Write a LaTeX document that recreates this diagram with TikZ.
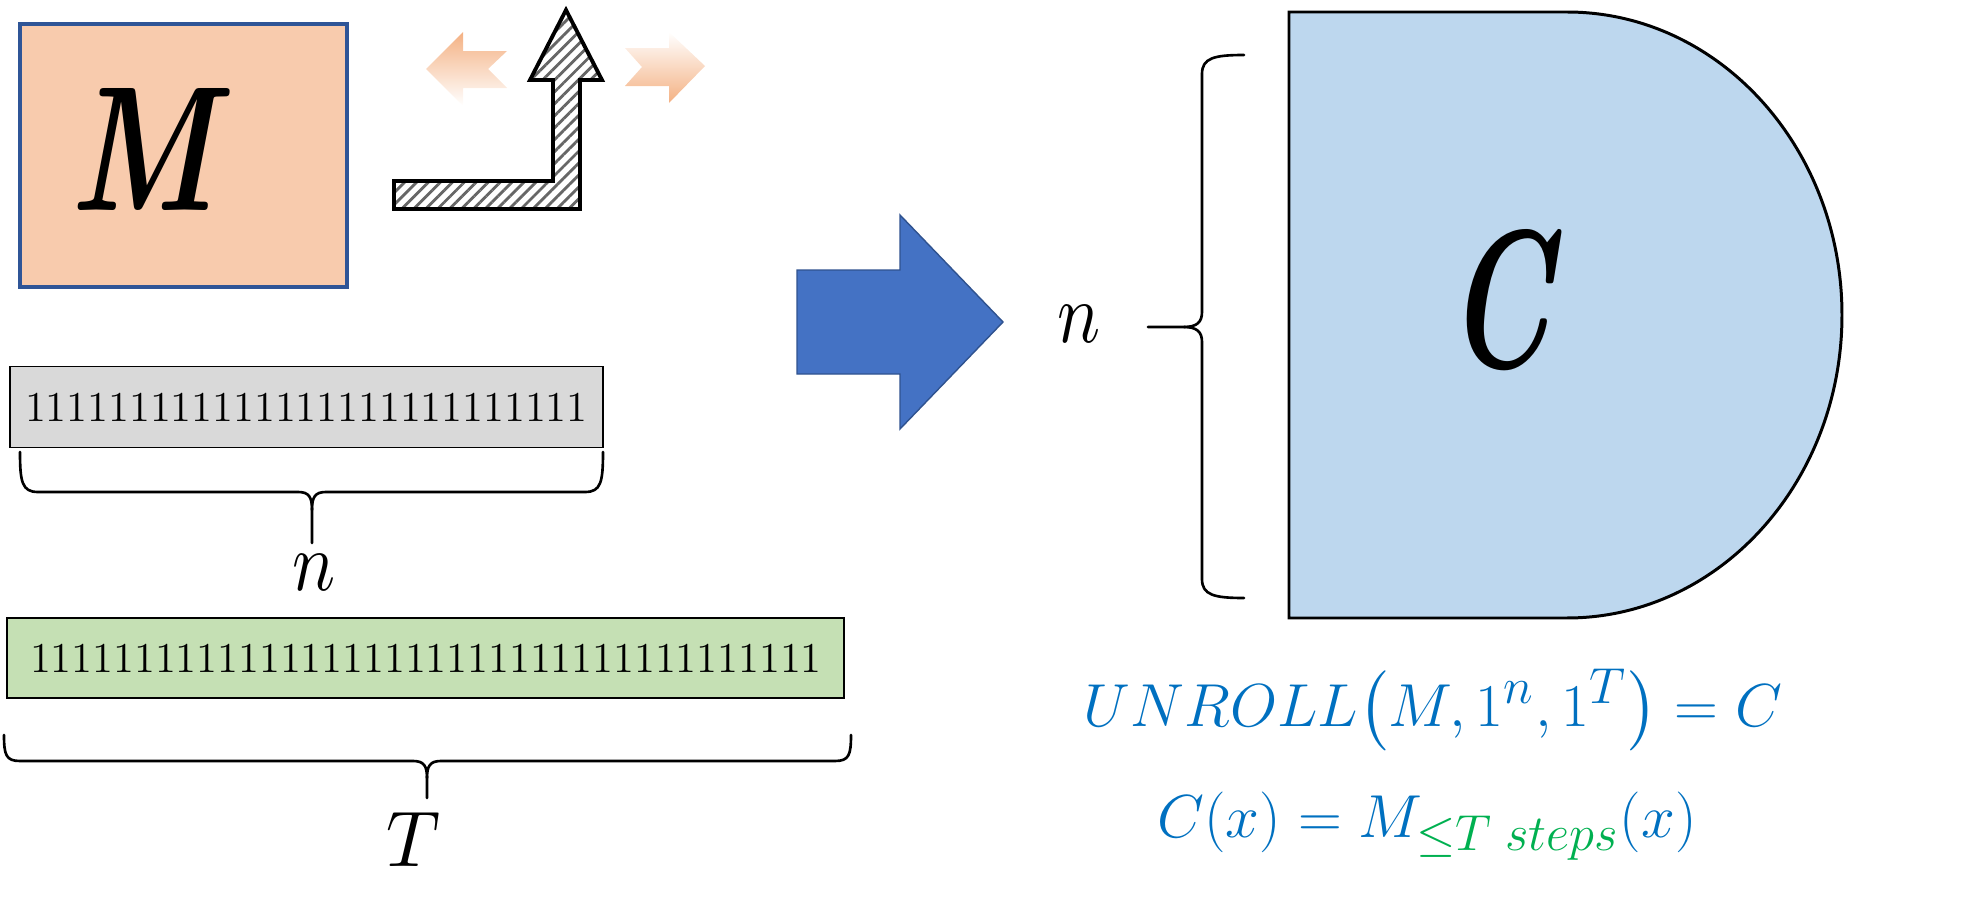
\documentclass[tikz,border=0pt]{standalone}
\usepackage{graphicx}
\usepackage{amsmath,amssymb}
\usetikzlibrary{patterns.meta}
\definecolor{mfill}{HTML}{F8CBAD}
\definecolor{mdraw}{HTML}{2F5597}
\definecolor{grayfill}{HTML}{D9D9D9}
\definecolor{greenfill}{HTML}{C5E0B4}
\definecolor{arrowblue}{HTML}{4472C4}
\definecolor{arrowblueedge}{HTML}{2F528F}
\definecolor{cfill}{HTML}{BDD7EE}
\definecolor{orangeA}{HTML}{F4B183}
\definecolor{textblue}{HTML}{0070C0}
\definecolor{textgreen}{HTML}{00B050}
\definecolor{hatchgray}{HTML}{666666}
\tikzset{
  mbox/.style={draw=mdraw, line width=1pt, fill=mfill, minimum width=32.7mm, minimum height=26.3mm, inner sep=0},
  tape/.style={draw=black, line width=0.45pt, inner ysep=0pt, align=left,
    font=\fontsize{12.1pt}{14pt}\selectfont},
  bracepath/.style={line width=0.75pt, line cap=round, line join=round},
  hatcharrow/.style={draw=black, line width=1.1pt, line join=miter,
    preaction={fill=white},
    pattern={Lines[angle=45,distance=2.4pt,line width=0.8pt]}, pattern color=hatchgray},
  bluearrow/.style={fill=arrowblue, draw=arrowblueedge, line width=0.4pt, line join=miter},
  cshape/.style={fill=cfill, draw=black, line width=0.85pt},
  letter/.style={inner sep=0pt, outer sep=0pt},
  formula/.style={inner sep=0pt, anchor=base, text=textblue, font=\fontsize{19pt}{23pt}\selectfont},
}
\begin{document}
\begin{tikzpicture}[x=0.1mm,y=-0.1mm]
\useasboundingbox (0,0) rectangle (1974,897);

% machine M
\node[mbox] (mbox) at (183.5,155.5) {};
\node[letter] (mlabel) at (143,149) {\resizebox{14.6mm}{12.2mm}{\bfseries\itshape M}};

% hatched bent arrow
\draw[hatcharrow] (394,181) -- (553,181) -- (553,80) -- (530,80) -- (566,10) -- (602,80) -- (580,80) -- (580,209) -- (394,209) -- cycle;

% faded orange arrows
\shade[top color=orangeA, bottom color=white, draw=none]
  (426,69) -- (463,32) -- (463,51) -- (507,51) -- (488,69) -- (507,88) -- (463,88) -- (463,106) -- cycle;
\shade[top color=white, bottom color=orangeA, draw=none]
  (625,48) -- (669,48) -- (669,32) -- (705,66) -- (669,103) -- (669,86) -- (625,86) -- (642,67) -- cycle;

% tapes
\node[tape, fill=grayfill, minimum width=59.3mm, minimum height=8.1mm, inner xsep=1.5mm, text width=56.3mm]
  (tapen) at (306.5,407) {111111111111111111111111111};
\node[tape, fill=greenfill, minimum width=83.7mm, minimum height=8.0mm, inner xsep=2.3mm, text width=79.1mm]
  (tapet) at (425.5,658) {11111111111111111111111111111111111111};

% brace under gray tape
\draw[bracepath] (20,452) .. controls (20,482) and (22,492) .. (38,492) -- (298,492)
  .. controls (309,492) and (312,497) .. (312,510) -- (312,543);
\draw[bracepath] (603,452) .. controls (603,482) and (601,492) .. (585,492) -- (326,492)
  .. controls (315,492) and (312,497) .. (312,510);
\node[letter] (nlabel) at (314,572) {\resizebox{4.3mm}{3.6mm}{$n$}};

% brace under green tape
\draw[bracepath] (4,735) .. controls (4,755) and (6,761) .. (20,761) -- (413,761)
  .. controls (424,761) and (427,766) .. (427,778) -- (427,798);
\draw[bracepath] (851,735) .. controls (851,755) and (849,761) .. (835,761) -- (441,761)
  .. controls (430,761) and (427,766) .. (427,778);
\node[letter] (tlabel) at (413,839) {\resizebox{5.4mm}{5.4mm}{$T$}};

% big blue arrow
\draw[bluearrow] (797,270) -- (900,270) -- (900,215) -- (1003,322) -- (900,429) -- (900,374) -- (797,374) -- cycle;

% right brace
\node[letter] (nright) at (1079,324) {\resizebox{4.3mm}{3.7mm}{$n$}};
\draw[bracepath] (1244,55) .. controls (1214,55) and (1202,58) .. (1202,74) -- (1202,312)
  .. controls (1202,322) and (1197,327) .. (1184,327) -- (1148,327);
\draw[bracepath] (1244,598) .. controls (1214,598) and (1202,595) .. (1202,579) -- (1202,342)
  .. controls (1202,332) and (1197,327) .. (1184,327);

% circuit C (delay shape)
\draw[cshape] (1289,12) -- (1567,12) arc[start angle=90, end angle=-90, x radius=27.5mm, y radius=30.3mm] -- (1289,618) -- cycle;
\node[letter] (clabel) at (1499,300) {\resizebox{10.5mm}{13.8mm}{\bfseries\itshape C}};

% formulas
\node[formula] (unroll) at (1433,726) {$UNROLL\bigl(M,1^{n},1^{T}\bigr)=C$};
\node[formula] (cdef) at (1427,837) {$C(x)=M_{\textcolor{textgreen}{\leq T\;steps}}(x)$};
\end{tikzpicture}
\end{document}
